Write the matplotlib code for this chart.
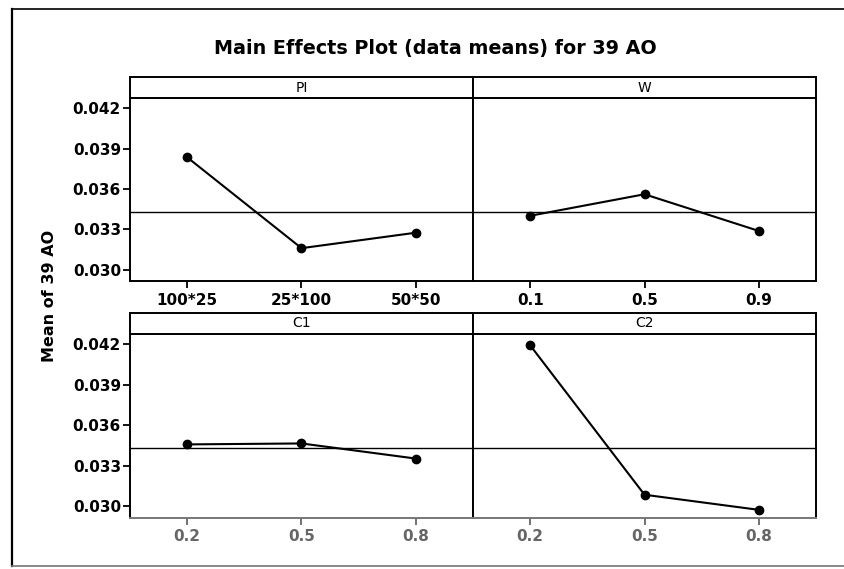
import numpy as np
import matplotlib
matplotlib.use("Agg")
import matplotlib.pyplot as plt
from matplotlib.lines import Line2D

# Data
pi_levels = ["100*25", "25*100", "50*50"]
pi_means = [0.03836, 0.03160, 0.03275]

w_levels = ["0.1", "0.5", "0.9"]
w_means = [0.03401, 0.03561, 0.03288]

c1_levels = ["0.2", "0.5", "0.8"]
c1_means = [0.03459, 0.03466, 0.03354]

c2_levels = ["0.2", "0.5", "0.8"]
c2_means = [0.04193, 0.03086, 0.02974]

grand_mean = 0.0343
y_ticks = [0.030, 0.033, 0.036, 0.039, 0.042]

plt.rcParams["font.family"] = "DejaVu Sans"

fig = plt.figure(figsize=(8.45, 5.69), dpi=100)

# panel geometry (figure fractions)
x0, xm, x1 = 0.1538, 0.5598, 0.9657
rows = [(0.5062, 0.8278, 0.8641), (0.0902, 0.4130, 0.4504)]
panels = [
    ("PI", pi_levels, pi_means, 0, 0),
    ("W", w_levels, w_means, 0, 1),
    ("C1", c1_levels, c1_means, 1, 0),
    ("C2", c2_levels, c2_means, 1, 1),
]

for name, levels, means, r, c in panels:
    bot, top, stop = rows[r]
    left = x0 if c == 0 else xm
    width = (xm - x0) if c == 0 else (x1 - xm)
    ax = fig.add_axes([left, bot, width, top - bot])
    xs = np.arange(len(levels))
    ax.axhline(grand_mean, color="black", lw=1.0)
    ax.plot(xs, means, color="black", lw=1.5, marker="o", ms=6)
    ax.set_xlim(-0.5, 2.5)
    ax.set_ylim(0.02916, 0.04277)
    ax.set_xticks(xs)
    lab_col = "black" if r == 0 else "#666666"
    ax.set_xticklabels(levels, fontsize=11, fontweight="bold", color=lab_col)
    ax.tick_params(axis="x", length=5, width=1.3, pad=3.5, color=lab_col)
    if c == 0:
        ax.set_yticks(y_ticks)
        ax.set_yticklabels(["%.3f" % v for v in y_ticks], fontsize=11, fontweight="bold")
        ax.tick_params(axis="y", length=5, width=1.3, pad=1.5)
    else:
        ax.set_yticks([])
    for s in ax.spines.values():
        s.set_linewidth(1.4)
    if r == 1:
        ax.spines["bottom"].set_color("#777777")

    # strip header
    sa = fig.add_axes([left, top, width, stop - top])
    sa.set_xticks([])
    sa.set_yticks([])
    for s in sa.spines.values():
        s.set_linewidth(1.4)
    sa.text(0.5, 0.5, name, ha="center", va="center", fontsize=10, transform=sa.transAxes)

fig.text(0.515, 0.915, "Main Effects Plot (data means) for 39 AO",
         ha="center", va="center", fontsize=13.8, fontweight="bold")
fig.text(0.059, 0.48, "Mean of 39 AO", rotation=90, ha="center", va="center",
         fontsize=11.5, fontweight="bold")

# outer frame of the figure panel
fx0, fy0, fy1 = 12 / 845, 1 - 566 / 569, 1 - 9 / 569
fig.add_artist(Line2D([fx0, fx0], [fy0, fy1], color="black", lw=1.6, transform=fig.transFigure))
fig.add_artist(Line2D([fx0, 1.0], [fy1, fy1], color="black", lw=1.2, transform=fig.transFigure))
fig.add_artist(Line2D([fx0, 1.0], [fy0, fy0], color="#777777", lw=1.2, transform=fig.transFigure))

fig.savefig("out.png", dpi=100)
